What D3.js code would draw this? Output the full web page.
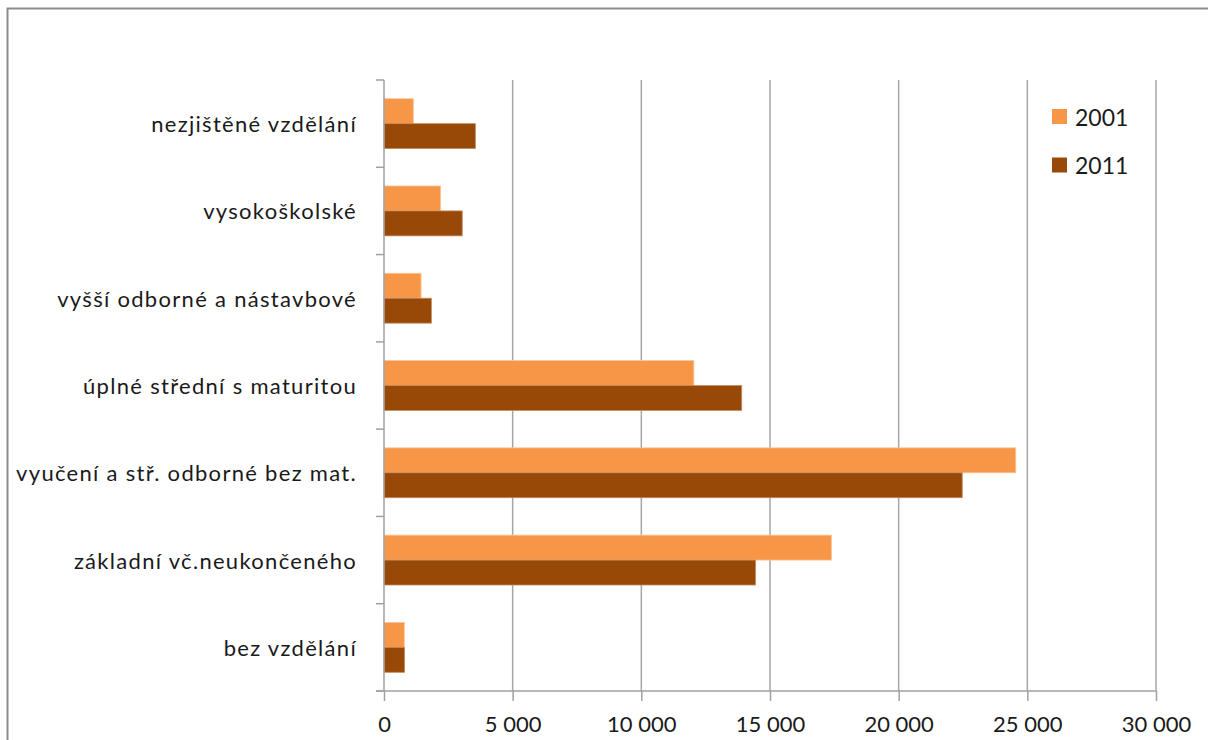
<!DOCTYPE html>
<html>
<head>
<meta charset="utf-8">
<script src="https://cdn.jsdelivr.net/npm/d3@7"></script>
<style>
  html, body { margin: 0; padding: 0; background: #fff; }
  svg { display: block; }
  text { font-family: Lato, "Open Sans", sans-serif; fill: #1a1a1a; }
</style>
</head>
<body>
<svg id="chart" width="1208" height="740"></svg>
<script>
const categories = [
  "nezjištěné vzdělání",
  "vysokoškolské",
  "vyšší odborné a nástavbové",
  "úplné střední s maturitou",
  "vyučení a stř. odborné bez mat.",
  "základní vč.neukončeného",
  "bez vzdělání"
];
const seriesNames = ["2001", "2011"];
const values2001 = [1140, 2200, 1440, 12040, 24550, 17390, 790];
const values2011 = [3550, 3040, 1840, 13900, 22470, 14440, 800];
const xTicks = [0, 5000, 10000, 15000, 20000, 25000, 30000];
const colors = ["#F79646", "#984807"];

const svg = d3.select("#chart");
const mLeft = 384, mRight = 1156, mTop = 80, mBottom = 691;

// frame
svg.append("rect").attr("x", 7.5).attr("y", 8.5).attr("width", 1240).attr("height", 760)
  .attr("fill", "none").attr("stroke", "#8c8c8c").attr("stroke-width", 2);

const x = d3.scaleLinear().domain([0, 30000]).range([mLeft, mRight]);
const gap = 0.75 / 1.75;
const y = d3.scaleBand().domain(categories).range([mTop, mBottom])
  .paddingInner(gap).paddingOuter(gap / 2);
const ySub = d3.scaleBand().domain(seriesNames).range([0, y.bandwidth()]);

// gridlines
svg.append("g").selectAll("line").data(xTicks.filter(d => d > 0)).join("line")
  .attr("x1", d => x(d)).attr("x2", d => x(d))
  .attr("y1", mTop).attr("y2", mBottom)
  .attr("stroke", "#a6a6a6").attr("stroke-width", 1.5);

// bars
const data = [];
categories.forEach((c, i) => {
  data.push({ c, s: "2001", v: values2001[i], col: colors[0] });
  data.push({ c, s: "2011", v: values2011[i], col: colors[1] });
});
svg.append("g").selectAll("rect").data(data).join("rect")
  .attr("x", x(0))
  .attr("y", d => y(d.c) + ySub(d.s))
  .attr("width", d => x(d.v) - x(0))
  .attr("height", ySub.bandwidth())
  .attr("fill", d => d.col)
  .attr("stroke", d => d.s === "2001" ? "#fbc49a" : "#c48a5c")
  .attr("stroke-width", 0.8);

// x axis
const xAxis = d3.axisBottom(x).tickValues(xTicks)
  .tickFormat(d => d3.format(",")(d).replace(/,/g, " "))
  .tickSize(10).tickPadding(15);
const gx = svg.append("g").attr("transform", `translate(0,${mBottom})`).call(xAxis);
gx.select(".domain").attr("stroke", "#a0a0a0").attr("stroke-width", 1.5)
  .attr("d", `M${mLeft - 8},0H${mRight}`);
gx.selectAll(".tick line").attr("stroke", "#a0a0a0").attr("stroke-width", 1.5);
gx.selectAll(".tick text").style("font-size", "22px").style("font-family", "Lato, sans-serif").attr("fill", "#1a1a1a");

// y axis
svg.append("line").attr("x1", mLeft).attr("x2", mLeft).attr("y1", mTop).attr("y2", mBottom)
  .attr("stroke", "#a0a0a0").attr("stroke-width", 1.5);
const boundaries = d3.range(categories.length + 1).map(i => mTop + i * y.step());
svg.append("g").selectAll("line").data(boundaries).join("line")
  .attr("x1", mLeft - 8).attr("x2", mLeft).attr("y1", d => d).attr("y2", d => d)
  .attr("stroke", "#a0a0a0").attr("stroke-width", 1.5);

svg.append("g").selectAll("text").data(categories).join("text")
  .attr("x", 357)
  .attr("y", d => y(d) + y.bandwidth() / 2)
  .attr("text-anchor", "end")
  .attr("dominant-baseline", "central")
  .style("font-size", "22px")
  .style("letter-spacing", "1.3px")
  .text(d => d);

// legend
const lg = svg.append("g");
seriesNames.forEach((s, i) => {
  const yy = 109 + i * 48.5;
  lg.append("rect").attr("x", 1052).attr("y", yy).attr("width", 15).attr("height", 15)
    .attr("fill", colors[i]);
  lg.append("text").attr("x", 1075).attr("y", yy + 7.5)
    .attr("dominant-baseline", "central").style("font-size", "23px").text(s);
});
</script>
</body>
</html>
